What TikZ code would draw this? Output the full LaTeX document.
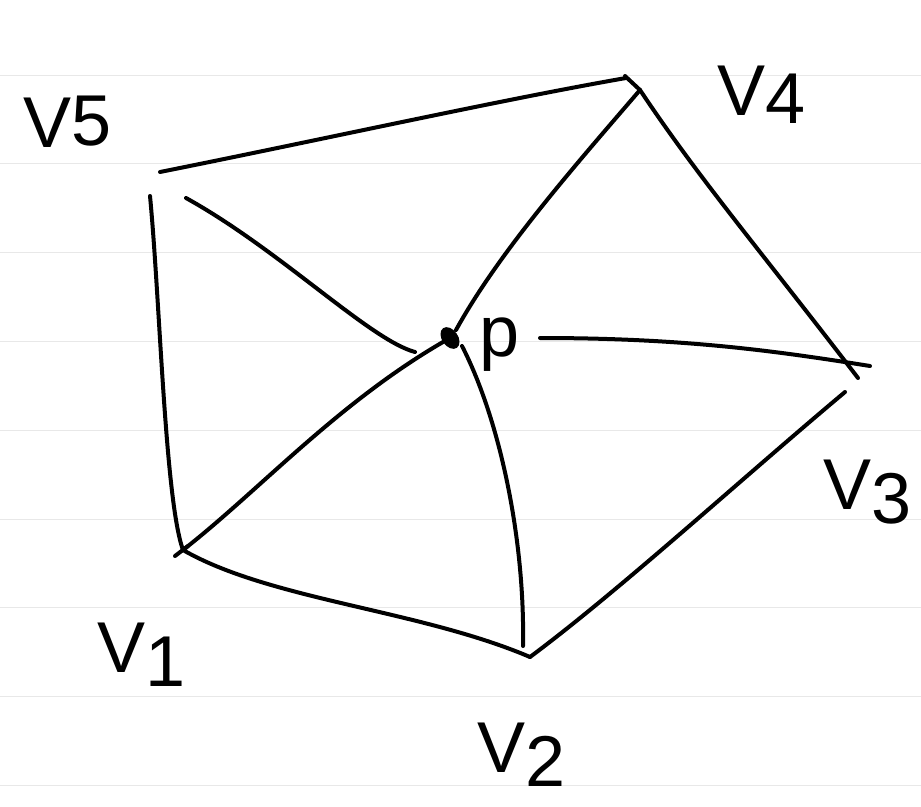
\documentclass[tikz,border=0pt]{standalone}
\usepackage{fontspec}
\setsansfont{Liberation Sans}
\begin{document}
\begin{tikzpicture}[x=1pt,y=-1pt,
  ink/.style={line width=4pt,line cap=round,line join=round,black},
  ruled/.style={line width=1pt,color=black!9},
  lbl/.style={font=\sffamily\fontsize{72}{72}\selectfont,inner sep=0pt}]
\useasboundingbox[fill=white] (0,0) rectangle (921,806);
% ruled paper
\foreach \yy in {75,163,252,341,430,519,607,696,785}
  \draw[ruled] (0,\yy) -- (921,\yy);
% vertex coordinates
\coordinate (v1) at (183,550);
\coordinate (v2) at (530,657);
\coordinate (v3) at (855,372);
\coordinate (v4) at (636,82);
\coordinate (v5a) at (160,172);
\coordinate (v5b) at (150,196);
\coordinate (v5c) at (186,198);
\coordinate (v3a) at (845,392);
\coordinate (v3b) at (870,366);
\coordinate (v2a) at (523,646);
\coordinate (v4a) at (640,90);
\coordinate (v1a) at (175,556);
\coordinate (p) at (450,338);
\coordinate (pa) at (415,352);
\coordinate (pb) at (462,346);
\coordinate (pc) at (540,338);
\coordinate (pd) at (456,330);
% outer pentagon
\draw[ink] (v5a) .. controls (320,140) and (500,100) .. (626,78);
\draw[ink] (625,76) -- (v4a);
\draw[ink] (v4a) .. controls (700,180) and (760,250) .. (858,378);
\draw[ink] (v3a) .. controls (740,480) and (620,590) .. (v2);
\draw[ink] (v2) .. controls (420,610) and (270,600) .. (v1);
\draw[ink] (v1a) -- (188,546);
\draw[ink] (v1) .. controls (165,500) and (160,300) .. (v5b);
% spokes
\draw[ink] (v5c) .. controls (280,250) and (370,340) .. (pa);
\draw[ink] (v4a) .. controls (580,160) and (500,250) .. (pd);
\draw[ink] (v1) .. controls (260,490) and (340,400) .. (p);
\draw[ink] (pb) .. controls (500,420) and (525,540) .. (v2a);
\draw[ink] (pc) .. controls (680,338) and (770,350) .. (v3b);
% p dot
\fill (p) ellipse[x radius=8pt,y radius=12pt,rotate=35];
% labels
\node[lbl] (l5) at (68,122) {V\raisebox{2pt}{5}};
\node[lbl] (l4) at (762,95) {V\raisebox{-8pt}{4}};
\node[lbl] (l3) at (868,492) {V\raisebox{-14pt}{3}};
\node[lbl] (l1) at (142,655) {V\raisebox{-14pt}{1}};
\node[lbl] (l2) at (522,755) {V\raisebox{-14pt}{2}};
\node[font=\sffamily\fontsize{72}{72}\selectfont,inner sep=0pt] (lp) at (500,345) {p};
\end{tikzpicture}
\end{document}
